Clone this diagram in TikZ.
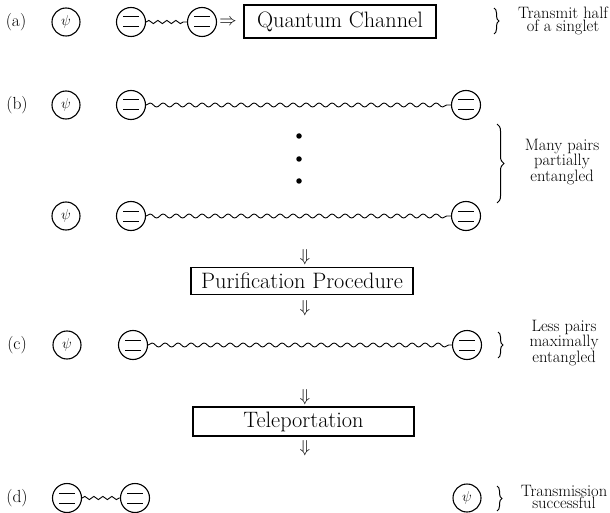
\documentclass[tikz,border=0pt]{standalone}
\usepackage{fontspec}
\usetikzlibrary{decorations.pathmorphing,decorations.pathreplacing}
\begin{document}
\begin{tikzpicture}[x=1pt,y=-1pt,
  qubit/.style={circle,draw,line width=1.1pt,minimum size=29pt,inner sep=0pt,
    path picture={
      \draw[line width=1pt] ([shift={(-8pt,5pt)}]path picture bounding box.center) -- ([shift={(8pt,5pt)}]path picture bounding box.center);
      \draw[line width=1pt] ([shift={(-8pt,-5pt)}]path picture bounding box.center) -- ([shift={(8pt,-5pt)}]path picture bounding box.center);
    }},
  psinode/.style={circle,draw,line width=1.1pt,minimum size=28pt,inner sep=0pt,font=\fontsize{15}{15}\selectfont},
  procbox/.style={draw,line width=1.2pt,inner sep=0pt,font=\fontsize{22.3}{26}\selectfont},
  rowlabel/.style={font=\fontsize{17.5}{17.5}\selectfont,inner sep=0pt},
  note/.style={align=center,font=\fontsize{16.5}{10.5}\selectfont,inner sep=0pt},
  wave/.style={decorate,decoration={snake,segment length=13pt,amplitude=2pt},line width=0.9pt},
  shortwave/.style={decorate,decoration={snake,segment length=9pt,amplitude=1.6pt},line width=0.9pt},
  bracepath/.style={decorate,decoration={brace,amplitude=5pt},line width=1pt},
  sym/.style={font=\fontsize{17.5}{17.5}\selectfont,inner sep=0pt},
  dotnode/.style={circle,fill,inner sep=0pt,minimum size=5.5pt}
]
\useasboundingbox (0,0) rectangle (610,513);

% row (a)
\node[rowlabel] (la) at (16,22) {(a)};
\node[psinode] (pa) at (66,22) {$\psi$};
\node[qubit] (a1) at (131,22) {};
\node[qubit] (a2) at (202,22) {};
\draw[shortwave] (a1) -- (a2);
\node[sym] (ra) at (228,22) {$\Rightarrow$};
\node[procbox,minimum width=192pt,minimum height=33pt] (qc) at (340,21.5) {Quantum Channel};
\coordinate (abt) at (494,8);
\coordinate (abb) at (494,34);
\draw[bracepath] (abt) -- (abb);
\node[note] (na) at (563,21) {Transmit half\\of a singlet};

% row (b)
\node[rowlabel] (lb) at (17,105) {(b)};
\node[psinode] (pb1) at (66,105) {$\psi$};
\node[qubit] (b1l) at (131,105) {};
\node[qubit] (b1r) at (466,105) {};
\draw[wave] (b1l) -- (b1r);
\node[dotnode] (d1) at (299,136) {};
\node[dotnode] (d2) at (299,159) {};
\node[dotnode] (d3) at (299,181) {};
\node[psinode] (pb2) at (66,216) {$\psi$};
\node[qubit] (b2l) at (131,216) {};
\node[qubit] (b2r) at (466,216) {};
\draw[wave] (b2l) -- (b2r);
\coordinate (bbt) at (497,124);
\coordinate (bbb) at (497,203);
\draw[bracepath,decoration={amplitude=7pt}] (bbt) -- (bbb);
\node[note] (nb) at (562,162) {Many pairs\\partially\\entangled};

% purification
\node[sym] (ar1) at (305,257) {$\Downarrow$};
\node[procbox,minimum width=222pt,minimum height=27pt] (pp) at (302,281) {Purification Procedure};
\node[sym] (ar2) at (305,308) {$\Downarrow$};

% row (c)
\node[rowlabel] (lc) at (17,345) {(c)};
\node[psinode] (pc) at (67,345) {$\psi$};
\node[qubit] (c1) at (133,345) {};
\node[qubit] (c2) at (467,345) {};
\draw[wave] (c1) -- (c2);
\coordinate (cbt) at (498,332);
\coordinate (cbb) at (498,358);
\draw[bracepath] (cbt) -- (cbb);
\node[note] (nc) at (564,343) {Less pairs\\maximally\\entangled};

% teleportation
\node[sym] (ar3) at (305,397) {$\Downarrow$};
\node[procbox,minimum width=221pt,minimum height=29pt] (tp) at (303.5,421.5) {Teleportation};
\node[sym] (ar4) at (305,448) {$\Downarrow$};

% row (d)
\node[rowlabel] (ld) at (17,498) {(d)};
\node[qubit] (e1) at (67,498) {};
\node[qubit] (e2) at (135,498) {};
\draw[shortwave] (e1) -- (e2);
\node[psinode] (pd) at (467,498) {$\psi$};
\coordinate (dbt) at (497,486);
\coordinate (dbb) at (497,511);
\draw[bracepath] (dbt) -- (dbb);
\node[note] (nd) at (564,497) {Transmission\\successful};
\end{tikzpicture}
\end{document}
